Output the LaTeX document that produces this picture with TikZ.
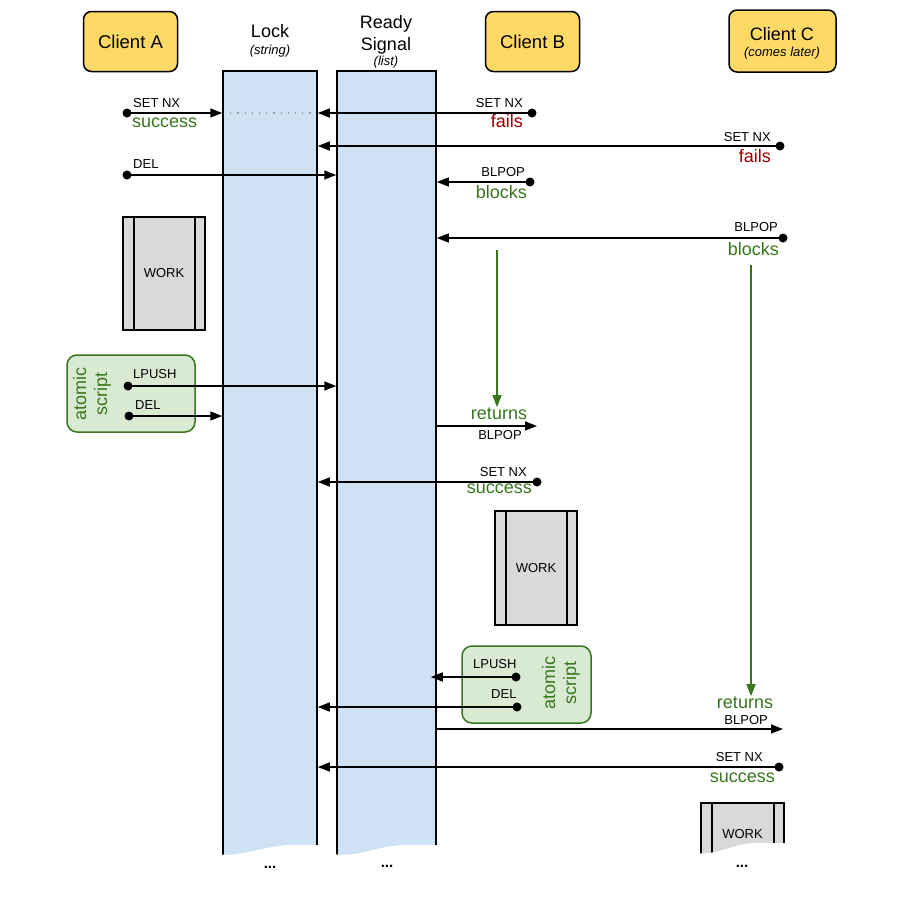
\documentclass[tikz,border=0pt]{standalone}
\usepackage{fontspec}
\setmainfont{Liberation Sans}
\usetikzlibrary{arrows.meta, positioning, calc}
\definecolor{ClientYellow}{HTML}{FFD966}
\definecolor{StoreBlue}{HTML}{CFE2F3}
\definecolor{ScriptGreen}{HTML}{D9EAD3}
\definecolor{OkGreen}{HTML}{38761D}
\definecolor{FailRed}{HTML}{990000}
\definecolor{WorkGray}{HTML}{D9D9D9}

\begin{document}
\begin{tikzpicture}[
    x=1pt,
    y=-1pt,
    clientbox/.style={
        rectangle,
        rounded corners=8pt,
        draw=black,
        line width=1.5pt,
        fill=ClientYellow,
        minimum width=94pt,
        minimum height=60pt,
        align=center,
        font=\fontsize{18.5}{21}\selectfont
    },
    columnbox/.style={
        rectangle,
        draw=black,
        line width=1.5pt,
        fill=StoreBlue,
        inner sep=0pt
    },
    titletext/.style={
        anchor=base,
        inner sep=0pt,
        font=\fontsize{18}{21}\selectfont
    },
    subtext/.style={
        anchor=base,
        inner sep=0pt,
        font=\fontsize{13}{15}\selectfont\itshape
    },
    cmdlabel/.style={
        inner sep=0pt,
        font=\fontsize{13}{15}\selectfont
    },
    statuslabel/.style={
        inner sep=0pt,
        font=\fontsize{18}{21}\selectfont
    },
    dotnode/.style={
        circle,
        fill=black,
        inner sep=0pt,
        minimum size=9pt
    },
    msgline/.style={
        line width=1.5pt,
        -{Triangle[length=12pt,width=9pt]}
    },
    waitline/.style={
        draw=OkGreen,
        line width=1.5pt,
        -{Triangle[length=12pt,width=9pt]}
    },
    workbox/.style={
        rectangle,
        draw=black,
        line width=1.5pt,
        fill=WorkGray,
        minimum width=82pt,
        font=\fontsize{13}{15}\selectfont,
        path picture={
            \draw[line width=1.5pt]
            ([xshift=11pt]path picture bounding box.north west)
            -- ([xshift=11pt]path picture bounding box.south west);
            \draw[line width=1.5pt]
            ([xshift=-10pt]path picture bounding box.north east)
            -- ([xshift=-10pt]path picture bounding box.south east);
        }
    },
    scriptbox/.style={
        rectangle,
        rounded corners=10pt,
        draw=OkGreen,
        line width=1.5pt,
        fill=ScriptGreen,
        minimum width=128pt,
        minimum height=77pt
    },
    scripttext/.style={
        rotate=90,
        align=center,
        inner sep=0pt,
        text=OkGreen,
        font=\fontsize{18}{21}\selectfont
    },
    morelabel/.style={
        inner sep=0pt,
        font=\fontsize{15}{17}\selectfont\bfseries
    }
]
\useasboundingbox (0,0) rectangle (900,900);
% -------------------------------------------------------------
% CLIENTS
% -------------------------------------------------------------
\node[clientbox] (clientA) at (130.5,41.5) {Client A};
\node[clientbox] (clientB) at (532.5,41.5) {Client B};
\node[clientbox, minimum width=107pt, minimum height=62pt] (clientC) at (782.5,41) {};
\node[titletext] (clientCName) at (782,40) {Client C};
\node[subtext] (clientCNote) at (782,56) {(comes later)};
% -------------------------------------------------------------
% REDIS KEYS
% -------------------------------------------------------------
\node[columnbox, minimum width=94pt, minimum height=789pt] (lockCol) at (270,465.5) {};
\node[titletext] (lockTitle) at (270,37.5) {Lock};
\node[subtext] (lockType) at (270,54) {(string)};
\node[columnbox, minimum width=99pt, minimum height=789pt] (readyCol) at (386.5,465.5) {};
\node[titletext] (readyTitle) at (386,28) {Ready};
\node[titletext] (readyTitleB) at (386,50) {Signal};
\node[subtext] (readyType) at (386,65) {(list)};
% -------------------------------------------------------------
% 1. SET NX (A wins, B and C fail)
% -------------------------------------------------------------
\node[dotnode] (aSetDot) at (127,113) {};
\draw[msgline] (aSetDot.center) -- (aSetDot -| lockCol.west);
\draw[gray!80, line width=1.5pt, dash pattern=on 1.2pt off 6pt, shorten <=8pt, shorten >=4pt]
(aSetDot -| lockCol.west) -- (aSetDot -| lockCol.east);
\node[cmdlabel, anchor=base west] (aSetCmd) at (133,107) {SET NX};
\node[statuslabel, anchor=base west, text=OkGreen] (aSetRes) at (132,127) {success};

\node[dotnode] (bSetDot) at (532,113) {};
\draw[msgline] (bSetDot.center) -- (bSetDot -| lockCol.east);
\node[cmdlabel, anchor=base east] (bSetCmd) at (523,107) {SET NX};
\node[statuslabel, anchor=base east, text=FailRed] (bSetRes) at (523,127) {fails};

\node[dotnode] (cSetDot) at (780,146) {};
\draw[msgline] (cSetDot.center) -- (cSetDot -| lockCol.east);
\node[cmdlabel, anchor=base east] (cSetCmd) at (771,141) {SET NX};
\node[statuslabel, anchor=base east, text=FailRed] (cSetRes) at (771,162) {fails};
% -------------------------------------------------------------
% 2. DEL + BLPOP
% -------------------------------------------------------------
\node[dotnode] (aDelDot) at (127,175) {};
\draw[msgline] (aDelDot.center) -- (aDelDot -| readyCol.west);
\node[cmdlabel, anchor=base west] (aDelCmd) at (133,168) {DEL};

\node[dotnode] (bPopDot) at (530,182) {};
\draw[msgline] (bPopDot.center) -- (bPopDot -| readyCol.east);
\node[cmdlabel, anchor=base east] (bPopCmd) at (525,176) {BLPOP};
\node[statuslabel, anchor=base east, text=OkGreen] (bPopRes) at (527,198) {blocks};

\node[dotnode] (cPopDot) at (783,238) {};
\draw[msgline] (cPopDot.center) -- (cPopDot -| readyCol.east);
\node[cmdlabel, anchor=base east] (cPopCmd) at (778,231) {BLPOP};
\node[statuslabel, anchor=base east, text=OkGreen] (cPopRes) at (779,255) {blocks};
% -------------------------------------------------------------
% CLIENT A: WORK + ATOMIC SCRIPT
% -------------------------------------------------------------
\node[workbox, minimum height=113pt] (workA) at (164,273.5) {WORK};

\node[scriptbox] (scriptA) at (131,393.5) {};
\node[scripttext] (scriptAText) at (92,394) {atomic\\script};
\node[dotnode] (aPushDot) at (128,386) {};
\draw[msgline] (aPushDot.center) -- (aPushDot -| readyCol.west);
\node[cmdlabel, anchor=base west] (aPushCmd) at (133,378) {LPUSH};
\node[dotnode] (aUnlockDot) at (129,416) {};
\draw[msgline] (aUnlockDot.center) -- (aUnlockDot -| lockCol.west);
\node[cmdlabel, anchor=base west] (aUnlockCmd) at (135,409) {DEL};
% -------------------------------------------------------------
% CLIENT B: RETURNS, TAKES LOCK, WORKS
% -------------------------------------------------------------
\coordinate (bWaitTop) at (497,250);
\node[statuslabel, anchor=base, text=OkGreen] (bRet) at (499,419) {returns};
\draw[waitline] (bWaitTop) -- (bWaitTop |- bRet.north);
\coordinate (bRetEnd) at (537,426);
\draw[msgline] (readyCol.east |- bRetEnd) -- (bRetEnd);
\node[cmdlabel, anchor=base] (bRetCmd) at (500,439) {BLPOP};

\node[dotnode] (bSetOkDot) at (537,482) {};
\draw[msgline] (bSetOkDot.center) -- (bSetOkDot -| lockCol.east);
\node[cmdlabel, anchor=base east] (bSetOkCmd) at (527,476) {SET NX};
\node[statuslabel, anchor=base east, text=OkGreen] (bSetOkRes) at (532,493) {success};

\node[workbox, minimum height=114pt] (workB) at (536,568) {WORK};

\node[scriptbox, minimum width=129pt] (scriptB) at (526.5,684.5) {};
\node[scripttext] (scriptBText) at (561,683) {atomic\\script};
\node[dotnode] (bPushDot) at (516,677) {};
\draw[msgline, shorten >=-6pt] (bPushDot.center) -- (bPushDot -| readyCol.east);
\node[cmdlabel, anchor=base west] (bPushCmd) at (473,668) {LPUSH};
\node[dotnode] (bUnlockDot) at (517,707) {};
\draw[msgline] (bUnlockDot.center) -- (bUnlockDot -| lockCol.east);
\node[cmdlabel, anchor=base west] (bUnlockCmd) at (491,698) {DEL};
% -------------------------------------------------------------
% CLIENT C: RETURNS, TAKES LOCK, WORKS
% -------------------------------------------------------------
\coordinate (cWaitTop) at (751,265);
\node[statuslabel, anchor=base, text=OkGreen] (cRet) at (745,708) {returns};
\draw[waitline] (cWaitTop) -- (cWaitTop |- cRet.north);
\coordinate (cRetEnd) at (783,729);
\draw[msgline] (readyCol.east |- cRetEnd) -- (cRetEnd);
\node[cmdlabel, anchor=base east] (cRetCmd) at (768,724) {BLPOP};

\node[dotnode] (cSetOkDot) at (779,767) {};
\draw[msgline] (cSetOkDot.center) -- (cSetOkDot -| lockCol.east);
\node[cmdlabel, anchor=base east] (cSetOkCmd) at (763,761) {SET NX};
\node[statuslabel, anchor=base east, text=OkGreen] (cSetOkRes) at (775,782) {success};

\node[workbox, minimum width=83pt, minimum height=62pt] (workC) at (742.5,834) {WORK};
% -------------------------------------------------------------
% TORN ENDS
% -------------------------------------------------------------
\fill[white] (217,854) .. controls (240,858) and (262,846) .. (290,845)
    -- (324,845) -- (324,880) -- (217,880) -- cycle;
\fill[white] (333,854) .. controls (358,858) and (380,845) .. (405,845)
    -- (440,845) -- (440,880) -- (333,880) -- cycle;
\fill[white] (698,853) .. controls (715,856) and (735,843) .. (755,843)
    -- (788,843) -- (788,883) -- (698,883) -- cycle;
\node[morelabel] (lockMore) at (270,867) {...};
\node[morelabel] (readyMore) at (387,866) {...};
\node[morelabel] (workMore) at (742,866) {...};
\end{tikzpicture}
\end{document}
